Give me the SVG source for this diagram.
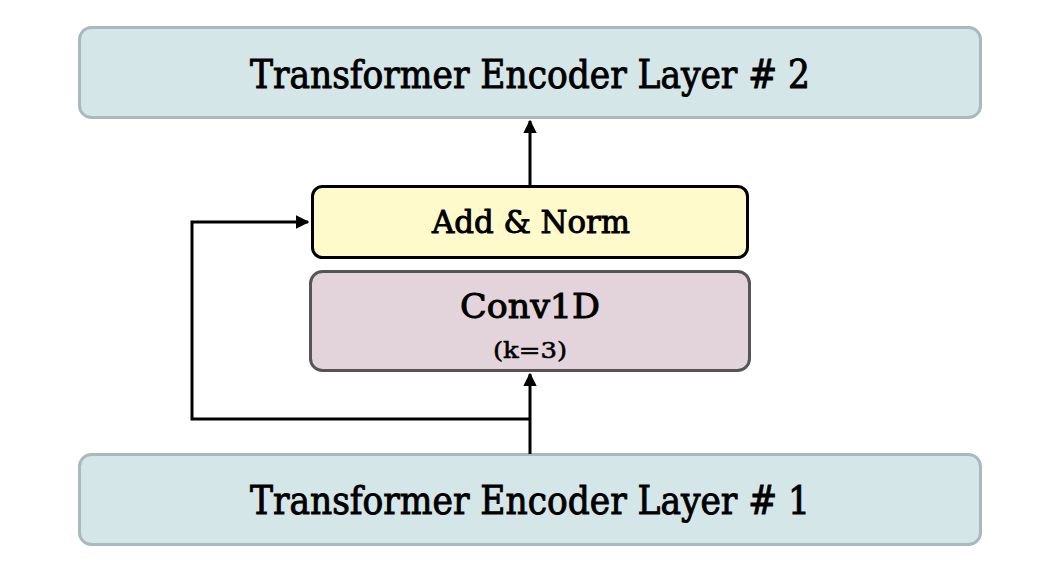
<svg xmlns="http://www.w3.org/2000/svg" width="1052" height="580" viewBox="0 0 1052 580">
<defs>
<style>
.layer{fill:#d5e6e8;stroke:#a9b9bc;stroke-width:3}
.t{font-family:"DejaVu Serif Condensed","Liberation Serif",serif;fill:#000;stroke:#000;stroke-width:0.9;text-anchor:middle}
.c{fill:none;stroke:#000;stroke-width:3}
</style>
<marker id="ah" viewBox="0 0 10 10" refX="9" refY="5" markerWidth="4.5" markerHeight="4.5" markerUnits="strokeWidth" orient="auto"><path d="M0,0L10,5L0,10z" fill="#000"/></marker>
</defs>
<rect width="1052" height="580" fill="#fff"/>
<g id="layer2">
<rect class="layer" x="79.500" y="27.500" width="901" height="90" rx="12"/>
<text class="t" x="530" y="88" font-size="39" textLength="560" lengthAdjust="spacingAndGlyphs">Transformer Encoder Layer # 2</text>
</g>
<g id="layer1">
<rect class="layer" x="79.500" y="454.500" width="901" height="90" rx="12"/>
<text class="t" x="530" y="514" font-size="39" textLength="560" lengthAdjust="spacingAndGlyphs">Transformer Encoder Layer # 1</text>
</g>
<g id="addnorm">
<rect x="312.500" y="186.500" width="435" height="71" rx="10" fill="#fefacc" stroke="#000" stroke-width="3"/>
<text class="t" x="531" y="233" font-size="32" textLength="198" lengthAdjust="spacingAndGlyphs">Add &amp; Norm</text>
</g>
<g id="conv1d">
<rect x="310.500" y="271.500" width="439" height="99" rx="12" fill="#e3d3da" stroke="#555" stroke-width="3"/>
<text class="t" x="530" y="318" font-size="34" textLength="140" lengthAdjust="spacingAndGlyphs">Conv1D</text>
<text class="t" x="530" y="358" font-size="23" textLength="74" lengthAdjust="spacingAndGlyphs" style="stroke-width:0.5">(k=3)</text>
</g>
<g id="connectors">
<path class="c" d="M530,186V121" marker-end="url(#ah)"/>
<path class="c" d="M530,454V374" marker-end="url(#ah)"/>
<path class="c" d="M530,419H192V222H308" marker-end="url(#ah)"/>
</g>
</svg>
